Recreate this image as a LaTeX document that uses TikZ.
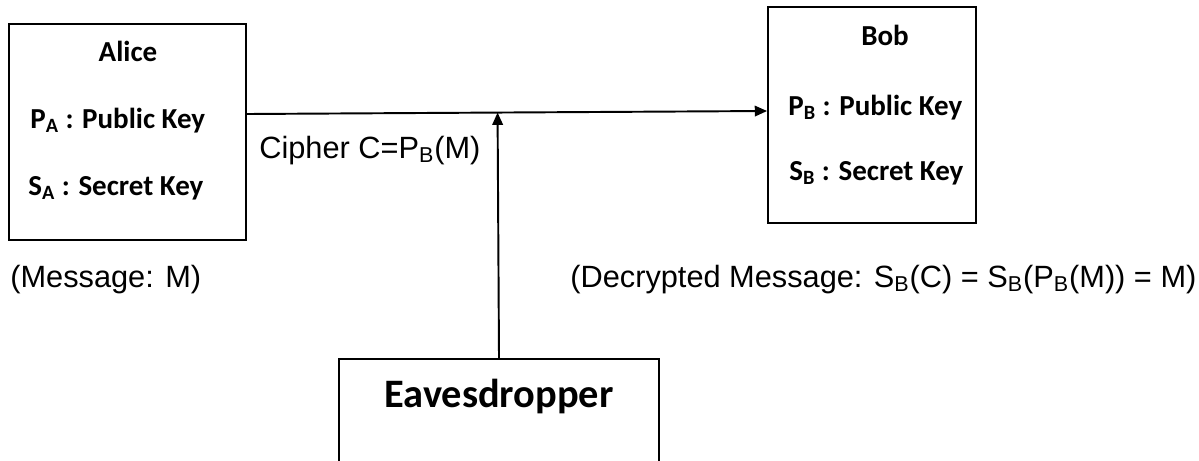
\documentclass[tikz,border=0pt]{standalone}
\usepackage{fontspec}
\setmainfont{Carlito}
\newfontfamily\arialfont{Liberation Sans}
\usetikzlibrary{positioning}
\usetikzlibrary{arrows.meta}
\usetikzlibrary{calc}
\tikzset{
  partybox/.style={draw, line width=1.1pt, inner sep=0pt},
  namelbl/.style={anchor=base, inner sep=0pt, font=\fontsize{16.5}{18}\selectfont\bfseries},
  keylbl/.style={anchor=base west, inner sep=0pt, font=\fontsize{16.5}{18}\selectfont\bfseries},
  msglbl/.style={anchor=base west, inner sep=0pt, font=\fontsize{17.5}{20}\selectfont\arialfont},
  link/.style={line width=1.1pt, -{Triangle[length=7pt,width=6pt]}}
}

\begin{document}
\begin{tikzpicture}[x=0.02cm, y=-0.02cm]
\useasboundingbox (0,0) rectangle (1199,460);
% the two parties
\node[partybox, minimum width=4.74cm, minimum height=4.32cm] (alice) at (127.5,132) {};
\node[partybox, minimum width=4.16cm, minimum height=4.32cm] (bob) at (872,115) {};
\node[partybox, minimum width=6.4cm, minimum height=2.4cm] (eve) at (499,419) {};

\node[namelbl] (alicename) at (128,61) {Alice};
\node[keylbl] (alicepk) at (30,128) {P\textsubscript{A} : Public Key};
\node[keylbl] (alicesk) at (28,195) {S\textsubscript{A} : Secret Key};

\node[namelbl] (bobname) at (885,45) {Bob};
\node[keylbl] (bobpk) at (788,115) {P\textsubscript{B} : Public Key};
\node[keylbl] (bobsk) at (789,180) {S\textsubscript{B} : Secret Key};

\node[anchor=base, inner sep=0pt, font=\fontsize{23}{26}\selectfont\bfseries] (evename) at (499,407) {Eavesdropper};

% messages
\node[msglbl] (cipher) at (259,158) {Cipher C=P\textsubscript{B}(M)};
\node[msglbl] (plain) at (10,287) {(Message: M)};
\node[msglbl] (decrypt) at (570,287) {(Decrypted Message: S\textsubscript{B}(C) = S\textsubscript{B}(P\textsubscript{B}(M)) = M)};

% channel
\coordinate (send) at ([yshift=0.36cm]alice.east);
\coordinate (recv) at ([yshift=0.08cm]bob.west);
\draw[link] (send) -- (recv);
\draw[link] (eve.north) -- ($(send)!(eve.north)!(recv)$);
\end{tikzpicture}
\end{document}
